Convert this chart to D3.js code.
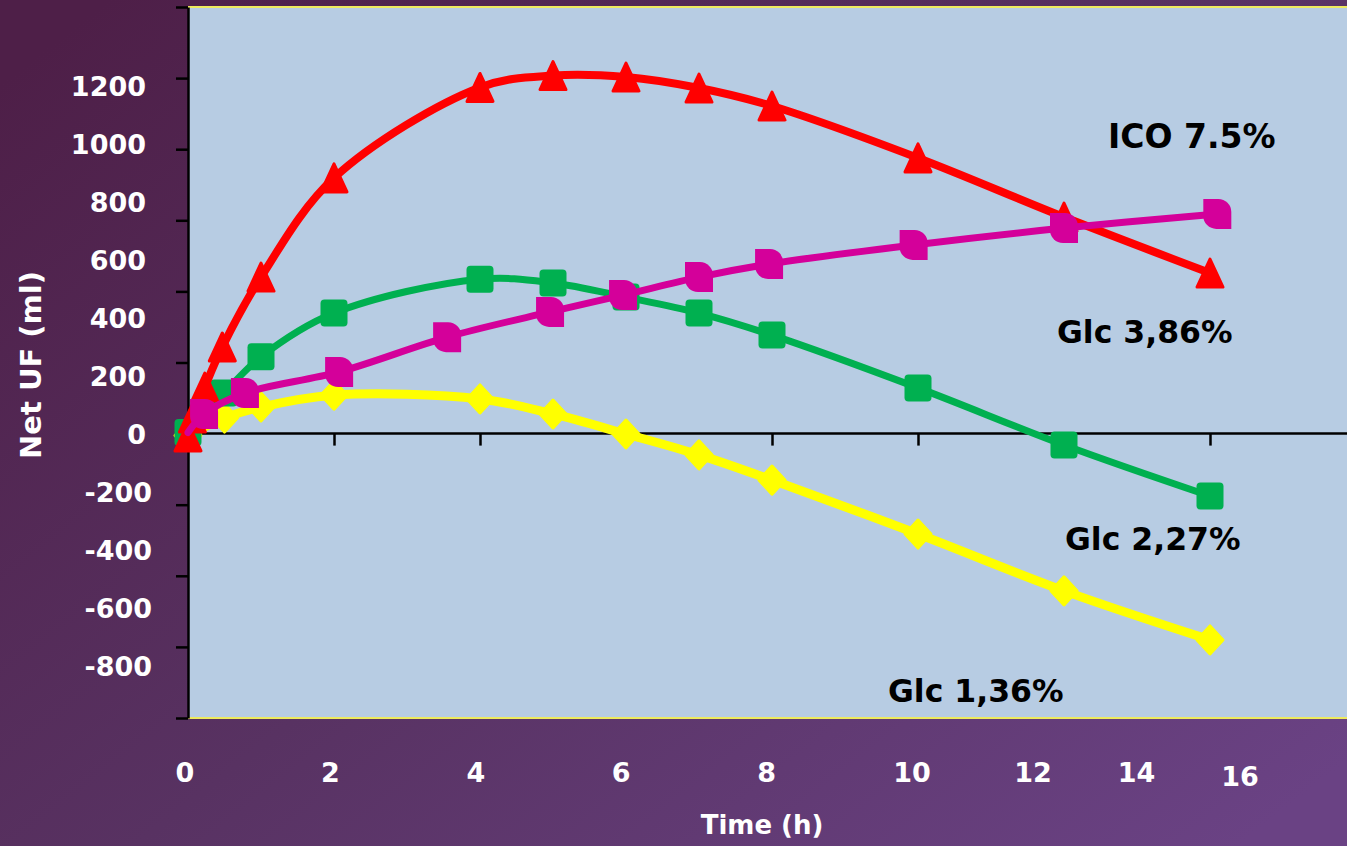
<!DOCTYPE html>
<html><head><meta charset="utf-8">
<script src="https://cdn.jsdelivr.net/npm/d3@7"></script>
<style>html,body{margin:0;padding:0;overflow:hidden;background:#55294f}</style>
</head><body><svg id="c" width="1347" height="846"></svg>
<script>
// ---- data ----
const yTickValues = [-800, -600, -400, -200, 0, 200, 400, 600, 800, 1000, 1200];
const xTickValues = [0, 2, 4, 6, 8, 10, 12, 14, 16];

const icoTime = [0, 0.06, 0.23, 0.47, 1, 2, 4, 5, 6, 7, 8, 10, 12, 14];
const icoUF   = [-10, 55, 162, 300, 541, 883, 1195, 1236, 1231, 1193, 1131, 952, 748, 555];

const glc227Time = [0, 0.22, 0.49, 1, 2, 4, 5, 6, 7, 8, 10, 12, 14];
const glc227UF   = [5, 76, 141, 266, 417, 534, 521, 472, 417, 341, 159, -38, -214];

const glc386Time = [0, 0.22, 0.78, 2.07, 3.55, 4.96, 5.96, 7, 7.96, 9.94, 12, 14.1];
const glc386UF   = [5, 69, 141, 214, 334, 421, 479, 541, 586, 652, 710, 759];

const glc136Time = [0, 0.5, 1, 2, 4, 5, 6, 7, 8, 10, 12, 14];
const glc136UF   = [-5, 55, 93, 134, 121, 69, 0, -72, -159, -345, -541, -710];

const seriesNames = ["Glc 1,36%", "Glc 2,27%", "ICO 7.5%", "Glc 3,86%"];

// ---- chart ----
const W = 1347, H = 846;
const svg = d3.select("#c");
const FONT = "'DejaVu Sans', 'Open Sans', sans-serif";

const defs = svg.append("defs");
const grad = defs.append("linearGradient").attr("id", "bg")
  .attr("x1", "0").attr("y1", "0.1").attr("x2", "1").attr("y2", "0.9");
grad.append("stop").attr("offset", "0").attr("stop-color", "#4e1f48");
grad.append("stop").attr("offset", "0.5").attr("stop-color", "#583262");
grad.append("stop").attr("offset", "1").attr("stop-color", "#6a4284");
svg.append("rect").attr("width", W).attr("height", H).attr("fill", "url(#bg)");

const x = d3.scaleLinear().domain([0, 16]).range([188, 188 + 16 * 73]);
const yFrame = d3.scaleLinear().domain([-800, 1200]).range([718, 7]);
const y = d3.scaleLinear().domain([-800, 1200]).range([666, 86]);
const xLabel = d3.scaleLinear().domain([0, 10, 12, 16]).range([185, 912, 1033, 1240]);

// plot area
svg.append("rect")
  .attr("x", x(0)).attr("y", yFrame(1200))
  .attr("width", W - x(0)).attr("height", yFrame(-800) - yFrame(1200))
  .attr("fill", "#b7cce3");
[1200, -800].forEach(v => {
  svg.append("line").attr("x1", x(0)).attr("x2", W)
    .attr("y1", yFrame(v)).attr("y2", yFrame(v))
    .attr("stroke", "#eeea5e").attr("stroke-width", 2);
});

// y axis
const yAx = svg.append("g").attr("transform", `translate(${x(0)},0)`)
  .call(d3.axisLeft(yFrame).tickValues(yTickValues).tickSize(12).tickSizeOuter(0).tickFormat(""));
yAx.selectAll("path,line").attr("stroke", "#000").attr("stroke-width", 2.5);

// x axis
const xAx = svg.append("g").attr("transform", `translate(0,${yFrame(0)})`)
  .call(d3.axisBottom(x).tickValues(xTickValues.filter(t => t > 0 && t < 16)).tickSize(12).tickSizeOuter(0).tickFormat(""));
xAx.select("path").remove();
xAx.selectAll("line").attr("stroke", "#000").attr("stroke-width", 2.5);
svg.append("line").attr("x1", x(0)).attr("x2", W)
  .attr("y1", yFrame(0)).attr("y2", yFrame(0))
  .attr("stroke", "#000").attr("stroke-width", 2.5);

// tick labels
svg.append("g").selectAll("text").data(yTickValues).join("text")
  .attr("x", d => d < 0 ? 152 : 146)
  .attr("y", d => y(d))
  .attr("dy", "0.36em")
  .attr("text-anchor", "end")
  .attr("fill", "#fff").attr("font-family", FONT).attr("font-weight", "bold")
  .attr("font-size", 27)
  .text(d => d);

svg.append("g").selectAll("text").data(xTickValues).join("text")
  .attr("x", d => xLabel(d))
  .attr("y", d => d === 16 ? 786 : 782)
  .attr("text-anchor", "middle")
  .attr("fill", "#fff").attr("font-family", FONT).attr("font-weight", "bold")
  .attr("font-size", 27)
  .text(d => d);

// axis titles
svg.append("text").attr("x", 762).attr("y", 834).attr("text-anchor", "middle")
  .attr("fill", "#fff").attr("font-family", FONT).attr("font-weight", "bold")
  .attr("font-size", 26).text("Time (h)");
svg.append("text").attr("transform", "translate(41,365) rotate(-90)")
  .attr("text-anchor", "middle")
  .attr("fill", "#fff").attr("font-family", FONT).attr("font-weight", "bold")
  .attr("font-size", 29).text("Net UF (ml)");

// markers
const triPath = "M0,-14 L13,14 L-13,14 Z";
const diaPath = "M0,-14 L13,0 L0,14 L-13,0 Z";
const halfRound = "M-14,-15 L1,-15 A13,13 0 0 1 14,-2 L14,15 L-1,15 A13,13 0 0 1 -14,2 Z";

const series = [
  {name: seriesNames[3], t: glc386Time, v: glc386UF, color: "#d4009a", width: 7, marker: "half", skipFirst: true},
  {name: seriesNames[0], t: glc136Time, v: glc136UF, color: "#ffff00", width: 9, marker: "diamond"},
  {name: seriesNames[1], t: glc227Time, v: glc227UF, color: "#00b050", width: 7, marker: "square"},
  {name: seriesNames[2], t: icoTime,    v: icoUF,    color: "#ff0000", width: 8, marker: "triangle"}
];
// drawing order of lines: yellow, green, red, magenta (magenta on top)
const order = [1, 2, 3, 0];

const line = d3.line().x(d => x(d[0])).y(d => y(d[1])).curve(d3.curveCatmullRom.alpha(0.5));

order.forEach(k => {
  const s = series[k];
  const pts = s.t.map((t, i) => [t, s.v[i]]);
  const g = svg.append("g");
  g.append("path").attr("d", line(pts)).attr("fill", "none")
    .attr("stroke", s.color).attr("stroke-width", s.width)
    .attr("stroke-linejoin", "round").attr("stroke-linecap", "round");
  const mpts = s.skipFirst ? pts.slice(1) : pts;
  const m = g.selectAll(".m").data(mpts).join("g")
    .attr("transform", d => `translate(${x(d[0])},${y(d[1])})`);
  if (s.marker === "square") {
    m.append("rect").attr("x", -13.5).attr("y", -13.5).attr("width", 27).attr("height", 27)
      .attr("rx", 4).attr("fill", s.color);
  } else if (s.marker === "triangle") {
    m.append("path").attr("d", triPath).attr("fill", s.color)
      .attr("stroke", s.color).attr("stroke-width", 3).attr("stroke-linejoin", "round");
  } else if (s.marker === "diamond") {
    m.append("path").attr("d", diaPath).attr("fill", s.color)
      .attr("stroke", s.color).attr("stroke-width", 3).attr("stroke-linejoin", "round");
  } else {
    m.append("path").attr("d", halfRound).attr("fill", s.color);
  }
});

// series labels
const labelPos = [
  {name: seriesNames[2], lx: 1108, ly: 148, fs: 33},
  {name: seriesNames[3], lx: 1057, ly: 343, fs: 31.5},
  {name: seriesNames[1], lx: 1065, ly: 550, fs: 31.5},
  {name: seriesNames[0], lx: 888,  ly: 702, fs: 31.5}
];
svg.append("g").selectAll("text").data(labelPos).join("text")
  .attr("x", d => d.lx).attr("y", d => d.ly)
  .attr("fill", "#000").attr("font-family", FONT).attr("font-weight", "bold")
  .attr("font-size", d => d.fs)
  .text(d => d.name);
</script>
</body></html>
